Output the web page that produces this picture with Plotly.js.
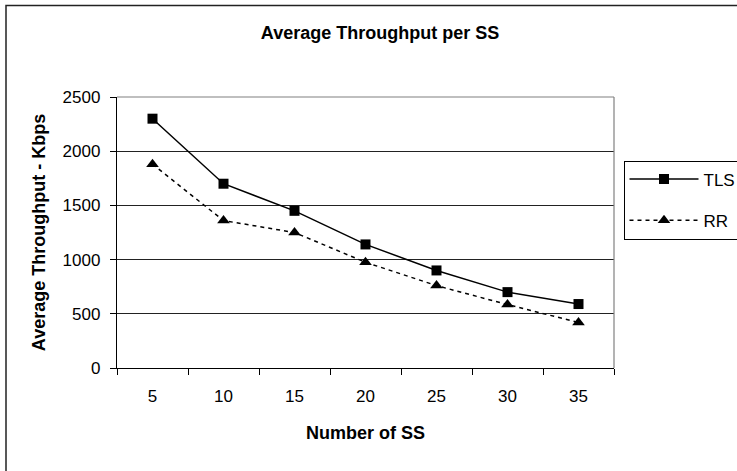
<!DOCTYPE html>
<html>
<head>
<meta charset="utf-8">
<script src="https://cdn.plot.ly/plotly-3.0.1.min.js"></script>
<style>
  html, body { margin: 0; padding: 0; background: #fff; }
  #chart { width: 737px; height: 471px; }
</style>
</head>
<body>
<div id="chart"></div>
<script>
// ---- data ----
var categories = ['5', '10', '15', '20', '25', '30', '35'];
var tlsValues = [2300, 1700, 1450, 1140, 900, 700, 590];
var rrValues = [1880, 1360, 1250, 975, 760, 585, 420];
var seriesNames = ['TLS', 'RR'];
var yTickValues = [0, 500, 1000, 1500, 2000, 2500];
var chartTitle = 'Average Throughput per SS';
var xTitle = 'Number of SS';
var yTitle = 'Average Throughput - Kbps';

var FONT = '"Liberation Sans", Arial, sans-serif';

var traces = [
  {
    x: categories, y: tlsValues, name: seriesNames[0], type: 'scatter', mode: 'lines+markers',
    legendgroup: 'a',
    line: { color: '#000', width: 1.5 },
    marker: { symbol: 'square', size: 10, color: '#000' }
  },
  {
    x: categories, y: rrValues, name: seriesNames[1], type: 'scatter', mode: 'lines+markers',
    legendgroup: 'b',
    line: { color: '#000', width: 1.5, dash: '4px,4px' },
    marker: { symbol: 'triangle-up', size: 11, color: '#000' }
  }
];

var L = 117, R = 123, T = 97, B = 103;
var W = 737, H = 471;
var pw = W - L - R, ph = H - T - B;
function px2x(p) { return (p - L) / pw; }
function px2y(p) { return (H - B - p) / ph; }

var layout = {
  width: W, height: H,
  margin: { l: L, r: R, t: T, b: B, pad: 0, autoexpand: false },
  paper_bgcolor: '#fff',
  plot_bgcolor: '#fff',
  font: { family: FONT, color: '#000', size: 17 },
  title: {
    text: chartTitle,
    font: { family: FONT, size: 18, weight: 'bold', color: '#000' },
    x: 380 / W, xanchor: 'center', xref: 'container',
    y: 1 - 33 / H, yanchor: 'middle', yref: 'container'
  },
  xaxis: {
    type: 'category',
    range: [-0.5, categories.length - 0.5],
    tickson: 'boundaries',
    ticks: 'outside', ticklen: 6, tickcolor: '#000', tickwidth: 1,
    showline: true, linecolor: '#000', linewidth: 1.2,
    showgrid: false, zeroline: false,
    tickfont: { family: FONT, size: 17, color: '#000' },
    ticklabelstandoff: 12,
    title: { text: xTitle, font: { family: FONT, size: 18, weight: 'bold', color: '#000' }, standoff: 21 },
    fixedrange: true
  },
  yaxis: {
    range: [0, 2500],
    tickvals: yTickValues,
    ticks: 'outside', ticklen: 6, tickcolor: '#000', tickwidth: 1,
    showline: true, linecolor: '#000', linewidth: 1.2,
    showgrid: true, gridcolor: '#222', gridwidth: 1,
    zeroline: false,
    tickfont: { family: FONT, size: 17, color: '#000' },
    ticklabelstandoff: 6,
    title: { text: yTitle, font: { family: FONT, size: 18, weight: 'bold', color: '#000' }, standoff: 12 },
    fixedrange: true
  },
  showlegend: true,
  legend: {
    x: 623.5 / W, xanchor: 'left', xref: 'container',
    y: 1 - 160.5 / H, yanchor: 'top', yref: 'container',
    bordercolor: '#000', borderwidth: 1, bgcolor: '#fff',
    font: { family: FONT, size: 17, color: '#000' },
    itemwidth: 69,
    tracegroupgap: 16,
    traceorder: 'grouped'
  },
  shapes: [
    {
      type: 'line', xref: 'paper', yref: 'paper', layer: 'above',
      x0: 0, x1: 1, y0: 1, y1: 1,
      line: { color: '#808080', width: 1.2 }
    },
    {
      type: 'line', xref: 'paper', yref: 'paper', layer: 'above',
      x0: 1, x1: 1, y0: 0, y1: 1,
      line: { color: '#808080', width: 1.2 }
    },
    {
      type: 'rect', xref: 'paper', yref: 'paper', layer: 'above',
      x0: px2x(6), x1: px2x(760), y0: px2y(500), y1: px2y(5.5),
      line: { color: '#222', width: 1.5 }
    }
  ]
};

Plotly.newPlot('chart', traces, layout, { displayModeBar: false, staticPlot: true });
</script>
</body>
</html>
